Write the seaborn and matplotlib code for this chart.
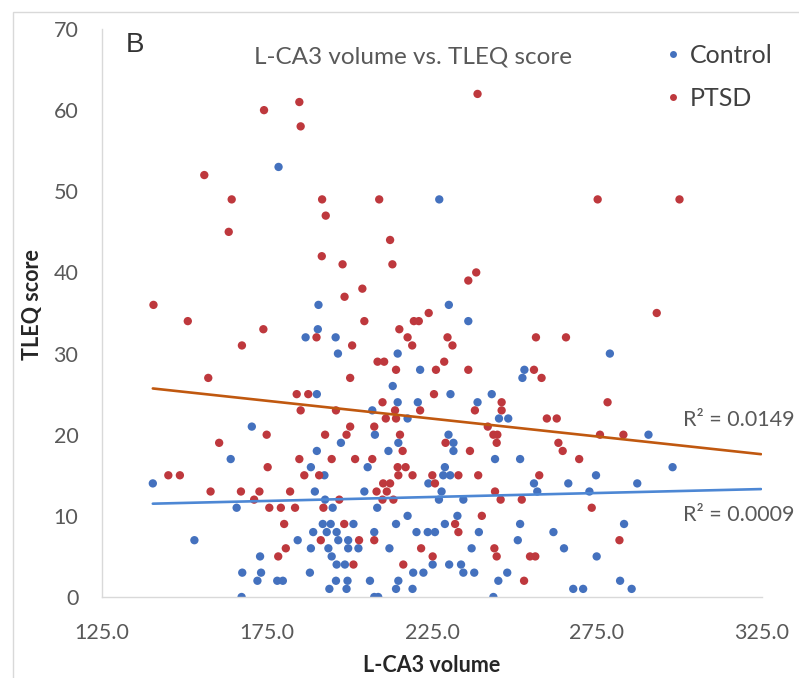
import matplotlib
matplotlib.use("Agg")
import matplotlib.pyplot as plt
import numpy as np
import pandas as pd
import seaborn as sns
from matplotlib.lines import Line2D
from matplotlib.patches import Rectangle

# L-CA3 volume and TLEQ score per participant
control_x = [178.5, 190.6, 227.2, 230.1, 236.0, 186.7, 190.4, 195.8, 196.5, 190.1,
             170.4, 197.4, 164.0, 190.1, 214.6, 221.4, 253.0, 252.4, 213.1, 230.6,
             243.1, 214.6, 220.7, 238.8, 206.9, 217.6, 245.3, 248.1, 207.7, 230.0,
             214.8, 231.5, 231.5, 211.8, 244.1, 251.7, 278.9, 290.6, 297.9, 140.4,
             188.3, 192.4, 189.5, 192.6, 165.8, 194.9, 191.9, 194.3, 189.0, 193.1,
             196.1, 184.3, 196.6, 153.0, 188.3, 193.6, 194.6, 172.9, 196.1, 167.5,
             173.2, 188.0, 172.1, 178.1, 179.8, 195.9, 193.9, 167.3, 205.5, 228.9,
             228.4, 230.5, 223.9, 204.5, 227.9, 227.1, 234.5, 208.4, 217.6, 232.7,
             214.1, 201.2, 228.9, 251.7, 207.5, 220.3, 223.7, 225.9, 239.2, 199.6,
             251.0, 199.6, 202.7, 212.1, 237.0, 198.6, 225.2, 230.2, 233.8, 219.3,
             222.4, 234.5, 237.8, 247.8, 199.4, 206.2, 214.8, 245.1, 199.1, 214.1,
             219.1, 207.5, 208.7, 243.6, 274.7, 255.9, 266.3, 287.2, 256.9, 272.7,
             283.2, 261.8, 265.0, 274.9, 282.0, 267.8, 270.8, 285.5]
control_y = [53, 36, 49, 36, 34, 32, 33, 32, 30, 25,
             21, 19, 17, 18, 30, 28, 28, 27, 26, 25,
             25, 24, 24, 24, 23, 22, 22, 22, 20, 20,
             19, 19, 18, 18, 17, 17, 30, 20, 16, 14,
             16, 15, 13, 12, 11, 11, 9, 9, 8, 8,
             8, 7, 7, 7, 6, 6, 5, 5, 4, 3,
             3, 3, 2, 2, 2, 2, 1, 0, 16, 16,
             15, 15, 14, 13, 13, 12, 12, 11, 10, 10,
             9, 9, 9, 9, 8, 8, 8, 8, 8, 7,
             7, 6, 6, 6, 6, 4, 4, 4, 4, 3,
             3, 3, 3, 3, 2, 2, 2, 2, 1, 1,
             1, 0, 0, 0, 15, 14, 14, 14, 13, 13,
             9, 8, 6, 5, 2, 1, 1, 1]

ptsd_x = [174.1, 184.8, 185.2, 156.0, 164.3, 191.7, 192.8, 209.0, 163.4, 212.3,
          191.6, 197.9, 213.0, 203.9, 198.5, 140.6, 151.0, 204.5, 238.8, 275.2,
          300.0, 238.4, 236.0, 224.0, 293.1, 219.5, 221.0, 173.9, 190.0, 167.4,
          157.2, 184.0, 187.5, 185.2, 195.9, 174.9, 160.5, 192.6, 184.8, 194.6,
          215.1, 217.6, 219.0, 229.7, 231.2, 200.8, 208.5, 210.5, 228.7, 214.1,
          226.2, 236.0, 200.2, 225.6, 210.0, 246.1, 213.8, 221.4, 238.0, 246.1,
          211.0, 214.1, 241.9, 200.2, 199.1, 207.5, 215.3, 243.6, 244.8, 244.6,
          229.1, 216.1, 236.5, 201.7, 206.9, 256.5, 265.6, 255.9, 258.2, 278.2,
          259.8, 262.8, 275.9, 283.0, 263.3, 264.6, 269.6, 145.1, 148.6, 157.9,
          175.2, 186.3, 190.8, 167.1, 172.7, 182.0, 171.1, 196.9, 175.7, 179.2,
          183.5, 192.1, 180.2, 191.3, 180.7, 178.4, 214.6, 217.0, 214.8, 219.1,
          225.1, 233.0, 239.0, 210.2, 212.3, 225.9, 211.3, 208.2, 244.1, 210.0,
          213.3, 245.8, 252.2, 240.1, 198.4, 232.0, 233.0, 202.9, 207.5, 221.7,
          243.9, 244.6, 225.2, 254.7, 256.3, 201.2, 216.3, 252.9, 257.5, 273.4,
          281.8]
ptsd_y = [60, 61, 58, 52, 49, 49, 47, 49, 45, 44,
          42, 41, 41, 38, 37, 36, 34, 34, 62, 49,
          49, 40, 39, 35, 35, 34, 34, 33, 32, 31,
          27, 25, 25, 23, 23, 20, 19, 20, 17, 17,
          33, 32, 31, 32, 31, 31, 29, 29, 29, 28,
          28, 28, 27, 25, 24, 24, 23, 23, 23, 23,
          22, 22, 21, 21, 20, 21, 20, 20, 20, 19,
          19, 18, 18, 17, 17, 32, 32, 28, 27, 24,
          22, 22, 20, 20, 19, 18, 17, 15, 15, 13,
          16, 15, 15, 13, 13, 13, 12, 12, 11, 11,
          11, 11, 9, 7, 6, 5, 16, 16, 15, 15,
          15, 15, 15, 14, 14, 14, 13, 13, 13, 12,
          12, 12, 12, 10, 9, 9, 8, 7, 7, 6,
          6, 5, 5, 5, 5, 4, 4, 2, 15, 11,
          7]

groups = ["Control", "PTSD"]
group_colors = ["#4471BE", "#BE383D"]
trend_colors = ["#4D87D4", "#C0580F"]

# Linear trend lines (end points) and their R² values
trend_x = [140.4, 324.7]
control_trend_y = [11.5, 13.3]
ptsd_trend_y = [25.7, 17.6]
r2_text = ["R² = 0.0009", "R² = 0.0149"]

x_ticks = [125, 175, 225, 275, 325]
x_tick_labels = ["125.0", "175.0", "225.0", "275.0", "325.0"]
y_ticks = [0, 10, 20, 30, 40, 50, 60, 70]

sns.set_style("white")
plt.rcParams["font.family"] = ["Lato", "DejaVu Sans"]

W, H = 799, 678
fig = plt.figure(figsize=(W / 100, H / 100), dpi=100)
ax = fig.add_axes([102 / W, 81 / H, 660 / W, 568 / H])

df = pd.DataFrame({
    "volume": control_x + ptsd_x,
    "tleq": control_y + ptsd_y,
    "group": ["Control"] * len(control_x) + ["PTSD"] * len(ptsd_x),
})
palette = dict(zip(groups, group_colors))
sns.scatterplot(data=df, x="volume", y="tleq", hue="group", palette=palette,
                s=36, linewidth=0, legend=False, ax=ax, zorder=2)

for ty, col in zip([control_trend_y, ptsd_trend_y], trend_colors):
    sns.lineplot(x=trend_x, y=ty, color=col, linewidth=1.9, ax=ax, zorder=3)

ax.set_xlim(125, 325)
ax.set_ylim(0, 70)
ax.set_xticks(x_ticks)
ax.set_xticklabels(x_tick_labels)
ax.set_yticks(y_ticks)
ax.tick_params(axis="both", length=0, labelsize=15.5, labelcolor="#595959")
ax.tick_params(axis="x", pad=19)
ax.tick_params(axis="y", pad=17)
for side in ["top", "right"]:
    ax.spines[side].set_visible(False)
for side in ["left", "bottom"]:
    ax.spines[side].set_color("#D9D9D9")
    ax.spines[side].set_linewidth(1.0)

ax.set_xlabel("L-CA3 volume", fontsize=15.5, fontweight="bold", color="#262626")
ax.set_ylabel("TLEQ score", fontsize=15.5, fontweight="bold", color="#262626")
ax.xaxis.set_label_coords(0.5, -(666 - 597) / 568)
ax.xaxis.label.set_va("center")
ax.yaxis.set_label_coords((33 - 102) / 660, (597 - 305) / 568)
ax.yaxis.label.set_va("center")

fig.text(413 / W, 1 - 57 / H, "L-CA3 volume vs. TLEQ score", ha="center", va="center",
         fontsize=17.5, color="#595959")
fig.text(135 / W, 1 - 45 / H, "B", ha="center", va="center", fontsize=20,
         color="#333333", family=["Liberation Sans", "DejaVu Sans"])

for txt, yp in zip(r2_text, [515, 420]):
    fig.text(683 / W, 1 - yp / H, txt, ha="left", va="center", fontsize=15.5, color="#595959")

handles = [Line2D([], [], marker="o", linestyle="none", markersize=5,
                  markerfacecolor=c, markeredgewidth=0) for c in group_colors]
ax.legend(handles, groups, loc="upper left", bbox_to_anchor=(664 / W, 1 - 44 / H),
          bbox_transform=fig.transFigure, frameon=False, fontsize=18,
          handlelength=0.7, handletextpad=0.35, labelspacing=0.78,
          borderpad=0, borderaxespad=0, labelcolor="#404040")

# light chart-area frame
fig.patches.append(Rectangle((13 / W, -0.1), 1.2, 1 - 12 / H + 0.1, transform=fig.transFigure,
                             fill=False, edgecolor="#D9D9D9", linewidth=1.0))

fig.savefig("out.png", dpi=100)
